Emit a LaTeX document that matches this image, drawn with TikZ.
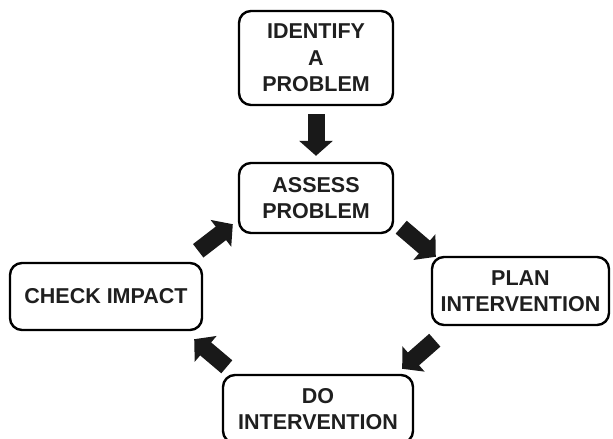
\documentclass[tikz,border=0pt]{standalone}
\usepackage{fontspec}
\setmainfont{Liberation Sans}
\usepackage{tikz}
\usetikzlibrary{calc,arrows.meta}

\tikzset{
	stepbox/.style={draw=black, line width=2.4pt, rounded corners=12pt, align=center, inner sep=0pt,
		font=\fontsize{21.5}{26.5}\selectfont\bfseries, text=black!88},
	bigarrow/.style={line width=17pt, black!90, -{Triangle[length=15pt,width=33pt]}}
}

\begin{document}
\begin{tikzpicture}[x=1pt,y=-1pt]
		\useasboundingbox (0,0) rectangle (613,439);
		
		%Kaesten
		\node[stepbox, minimum width=154pt, minimum height=94pt] (identify) at (316,58) {IDENTIFY\\A\\PROBLEM};
		\node[stepbox, minimum width=154pt, minimum height=70pt] (assess) at (316,198) {ASSESS\\PROBLEM};
		\node[stepbox, minimum width=177pt, minimum height=68pt] (plan) at (520.5,291) {PLAN\\INTERVENTION};
		\node[stepbox, minimum width=190pt, minimum height=68pt] (do) at (318,409) {DO\\INTERVENTION};
		\node[stepbox, minimum width=192pt, minimum height=67pt] (check) at (106,296.5) {CHECK IMPACT};
		
		%Pfeile
		\draw[bigarrow, shorten <=8pt, shorten >=6pt] (identify.south) -- (assess.north);
		\draw[bigarrow] ([shift={(7,-7)}]assess.south east) -- ([shift={(5,1)}]plan.north west);
		\draw[bigarrow] ([shift={(4,14)}]plan.south west) -- ([shift={(-12,-5)}]do.north east);
		\draw[bigarrow] ([shift={(5,-7)}]do.north west) -- ([shift={(-9,8)}]check.south east);
		\draw[bigarrow] ([shift={(-5,-11)}]check.north east) -- ([shift={(-5,-10)}]assess.south west);
\end{tikzpicture}
\end{document}
